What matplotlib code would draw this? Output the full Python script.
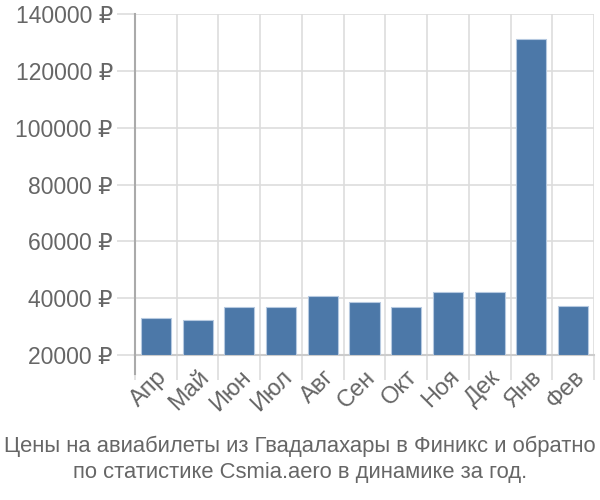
import matplotlib
matplotlib.use("Agg")
import matplotlib.pyplot as plt
import numpy as np

months = ["Апр", "Май", "Июн", "Июл", "Авг", "Сен", "Окт", "Ноя", "Дек", "Янв", "Фев"]
prices = [33100, 32400, 36900, 36900, 40800, 38600, 36800, 42300, 42100, 131300, 37300]
yticks = [20000, 40000, 60000, 80000, 100000, 120000, 140000]
title = "Цены на авиабилеты из Гвадалахары в Финикс и обратно\nпо статистике Csmia.aero в динамике за год."

plt.rcParams['font.family'] = ['Liberation Sans', 'DejaVu Sans']

fig = plt.figure(figsize=(6, 5), dpi=100)
ax = fig.add_axes([0.225, 0.29, 0.765, 0.682])

x = np.arange(len(months))
base = 20000
ax.bar(x, [p - base for p in prices], bottom=base, width=0.72,
       color="#4c78a8", edgecolor="#b6c9e0", linewidth=0.8, zorder=3)

ax.set_xlim(-0.5, len(months) - 0.5)
ax.set_ylim(base, 140000)

ax.set_yticks(yticks)
ax.set_yticklabels([f"{v} ₽" for v in yticks])
ax.set_xticks(x)
ax.set_xticklabels(months, rotation=45, ha="right", rotation_mode="anchor")
ax.set_xticks(np.arange(len(months) + 1) - 0.5, minor=True)

ax.tick_params(axis="y", which="major", length=13, color="#dddddd", width=1.2,
               labelsize=16.5, labelcolor="#666666", pad=3)
ax.tick_params(axis="x", which="major", length=0, labelsize=17, labelcolor="#666666", pad=8)
ax.tick_params(axis="x", which="minor", length=18, color="#dddddd", width=1.2)

ax.grid(True, axis="y", which="major", color="#dddddd", linewidth=1.2, zorder=0)
ax.grid(True, axis="x", which="minor", color="#dddddd", linewidth=1.2, zorder=0)
ax.grid(False, axis="x", which="major")

for s in ["top", "right"]:
    ax.spines[s].set_visible(False)
ax.spines["bottom"].set_color("#cccccc")
ax.spines["bottom"].set_linewidth(1.5)
ax.spines["left"].set_color("#aaaaaa")
ax.spines["left"].set_linewidth(1.5)
ax.spines["left"].set_bounds(base, 140000)

ax.plot([-0.5, -0.5], [base - 6700, base], color="#aaaaaa", linewidth=1.5,
        clip_on=False, zorder=4)

fig.text(0.5, 0.082, title, ha="center", va="center", fontsize=15.8,
         color="#666666", linespacing=1.3)

fig.savefig("out.png", dpi=100)
